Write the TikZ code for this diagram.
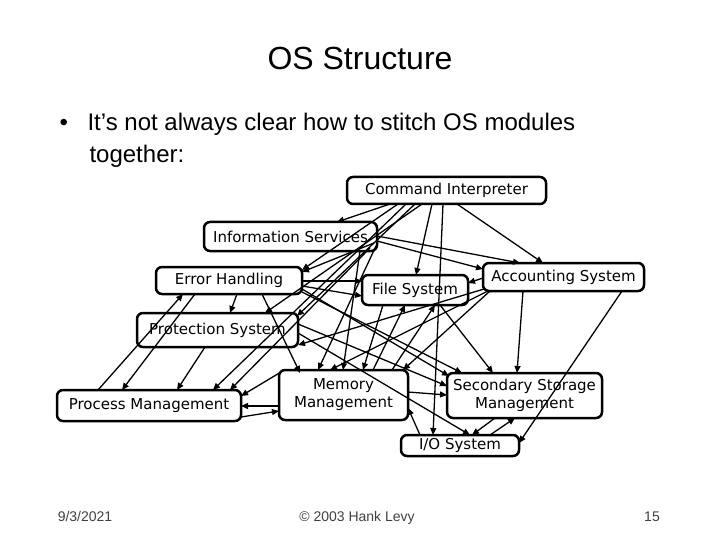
\documentclass[tikz,border=0pt]{standalone}
\usepackage{fontspec}
\setmainfont{Liberation Sans}
\newfontfamily\boxfont{DejaVu Sans}
\usetikzlibrary{arrows.meta,calc}
\begin{document}
\begin{tikzpicture}[x=1pt,y=-1pt,
  mod/.style={draw, line width=2.5pt, rounded corners=6pt, inner sep=0pt, outer sep=0pt,
    anchor=north west, align=center, font=\boxfont\fontsize{15}{18}\selectfont},
  arr/.style={line width=1.3pt, -{Triangle[length=7pt,width=6pt]}},
  foot/.style={anchor=base, text=black!75, font=\fontsize{14}{16}\selectfont}]
\path[use as bounding box] (0,0) rectangle (720,540);
\node[anchor=base, font=\fontsize{32}{36}\selectfont] (title) at (360,70) {OS Structure};
\node[anchor=base west, font=\fontsize{24}{28}\selectfont] (bul) at (56,131) {\textbullet};
\node[anchor=base west, font=\fontsize{24}{28}\selectfont] (l1) at (84,131) {It’s not always clear how to stitch OS modules};
\node[anchor=base west, font=\fontsize{24}{28}\selectfont] (l2) at (86,163) {together:};
% modules
\node[mod, minimum width=199pt, minimum height=27pt] (CI) at (347,177) {Command Interpreter};
\node[mod, minimum width=173pt, minimum height=29pt] (IS) at (204,222) {Information Services};
\node[mod, minimum width=146pt, minimum height=27pt] (EH) at (156,267) {Error Handling};
\node[mod, minimum width=106pt, minimum height=30pt] (FS) at (362,275) {File System};
\node[mod, minimum width=161pt, minimum height=28pt] (AS) at (483,263) {Accounting System};
\node[mod, minimum width=161pt, minimum height=34pt] (PS) at (137,313) {Protection System};
\node[mod, minimum width=184pt, minimum height=31pt] (PM) at (57,390) {Process Management};
\node[mod, minimum width=129pt, minimum height=50pt] (MM) at (279,370) {Memory\\Management};
\node[mod, minimum width=155pt, minimum height=45pt] (SS) at (447,373) {Secondary Storage\\Management};
\node[mod, minimum width=118pt, minimum height=21pt] (IO) at (401,435) {I/O System};
% connectors
\draw[arr] ($(CI.north west)+(43,27)$) -- ($(IS.north west)+(133,0)$);
\draw[arr] ($(CI.north west)+(51,27)$) -- ($(EH.north west)+(146,3)$);
\draw[arr] ($(CI.north west)+(59,27)$) -- ($(PM.north west)+(156,0)$);
\draw[arr] ($(CI.north west)+(68,27)$) -- ($(PS.north west)+(160,3)$);
\draw[arr] ($(CI.north west)+(85,27)$) -- ($(FS.north west)+(54,0)$);
\draw[arr] ($(CI.north west)+(96,27)$) -- ($(IO.north west)+(32,0)$);
\draw[arr] ($(CI.north west)+(110,27)$) -- ($(AS.north west)+(60,0)$);
\draw[arr] ($(CI.north west)+(75,27)$) -- ($(PS.north west)+(128,0)$);
\draw[arr] ($(IS.north west)+(173,14)$) -- ($(AS.north west)+(37,0)$);
\draw[arr] ($(IS.north west)+(173,19)$) -- ($(AS.north west)+(0,6)$);
\draw[arr] ($(IS.north west)+(170,21)$) -- ($(EH.north west)+(146,5)$);
\draw[arr] ($(IS.north west)+(166,26)$) -- ($(PM.north west)+(173,0)$);
\draw[arr] ($(IS.north west)+(156,29)$) -- ($(MM.north west)+(64,0)$);
\draw[arr] ($(IS.north west)+(172,24)$) -- ($(MM.north west)+(39,0)$);
\draw[arr] ($(EH.north west)+(146,14)$) -- ($(FS.north west)+(0,6)$);
\draw[arr] ($(EH.north west)+(146,19)$) -- ($(FS.north west)+(0,21)$);
\draw[arr] ($(EH.north west)+(146,22)$) -- ($(SS.north west)+(2,3)$);
\draw[arr] ($(EH.north west)+(146,25)$) -- ($(SS.north west)+(15,0)$);
\draw[arr] ($(EH.north west)+(106,27)$) -- ($(MM.north west)+(21,3)$);
\draw[arr] ($(EH.north west)+(81,27)$) -- ($(PS.north west)+(93,0)$);
\draw[arr] ($(EH.north west)+(39,27)$) -- ($(PM.north west)+(65,0)$);
\draw[arr] ($(PM.north west)+(41,0)$) -- ($(EH.north west)+(27,27)$);
\draw[arr] ($(PS.north west)+(68,34)$) -- ($(PM.north west)+(120,0)$);
\draw[arr] ($(PS.north west)+(161,11)$) -- ($(SS.north west)+(0,13)$);
\draw[arr] ($(PS.north west)+(161,20)$) -- ($(IO.north west)+(69,0)$);
\draw[arr] ($(MM.north west)+(2,2)$) -- ($(PM.north west)+(184,6)$);
\draw[arr] ($(MM.north west)+(0,36)$) -- ($(PM.north west)+(184,16)$);
\draw[arr] ($(PM.north west)+(184,27)$) -- ($(MM.north west)+(0,41)$);
\draw[arr] ($(FS.north west)+(21,30)$) -- ($(MM.north west)+(84,0)$);
\draw[arr] ($(MM.north west)+(94,0)$) -- ($(FS.north west)+(43,30)$);
\draw[arr] ($(FS.north west)+(78,30)$) -- ($(SS.north west)+(46,0)$);
\draw[arr] ($(AS.north west)+(0,15)$) -- ($(FS.north west)+(106,8)$);
\draw[arr] ($(MM.north west)+(113,0)$) -- ($(FS.north west)+(73,30)$);
\draw[arr] ($(AS.north west)+(7,28)$) -- ($(MM.north west)+(124,0)$);
\draw[arr] ($(AS.north west)+(40,28)$) -- ($(SS.north west)+(70,0)$);
\draw[arr] ($(AS.north west)+(139,28)$) -- ($(IO.north west)+(118,8)$);
\draw[arr] ($(AS.north west)+(5,28)$) -- ($(MM.north west)+(51,0)$);
\draw[arr] ($(AS.north west)+(1,26)$) -- ($(PS.north west)+(161,32)$);
\draw[arr] ($(MM.north west)+(129,22)$) -- ($(SS.north west)+(0,22)$);
\draw[arr] ($(SS.north west)+(48,45)$) -- ($(IO.north west)+(71,0)$);
\draw[arr] ($(IO.north west)+(89,0)$) -- ($(SS.north west)+(68,45)$);
\draw[arr] ($(IO.north west)+(19,0)$) -- ($(MM.north west)+(129,38)$);
% footer
\node[foot] (date) at (85,521) {9/3/2021};
\node[foot] (copy) at (357,521) {© 2003 Hank Levy};
\node[foot] (page) at (652,521) {15};
\end{tikzpicture}
\end{document}
